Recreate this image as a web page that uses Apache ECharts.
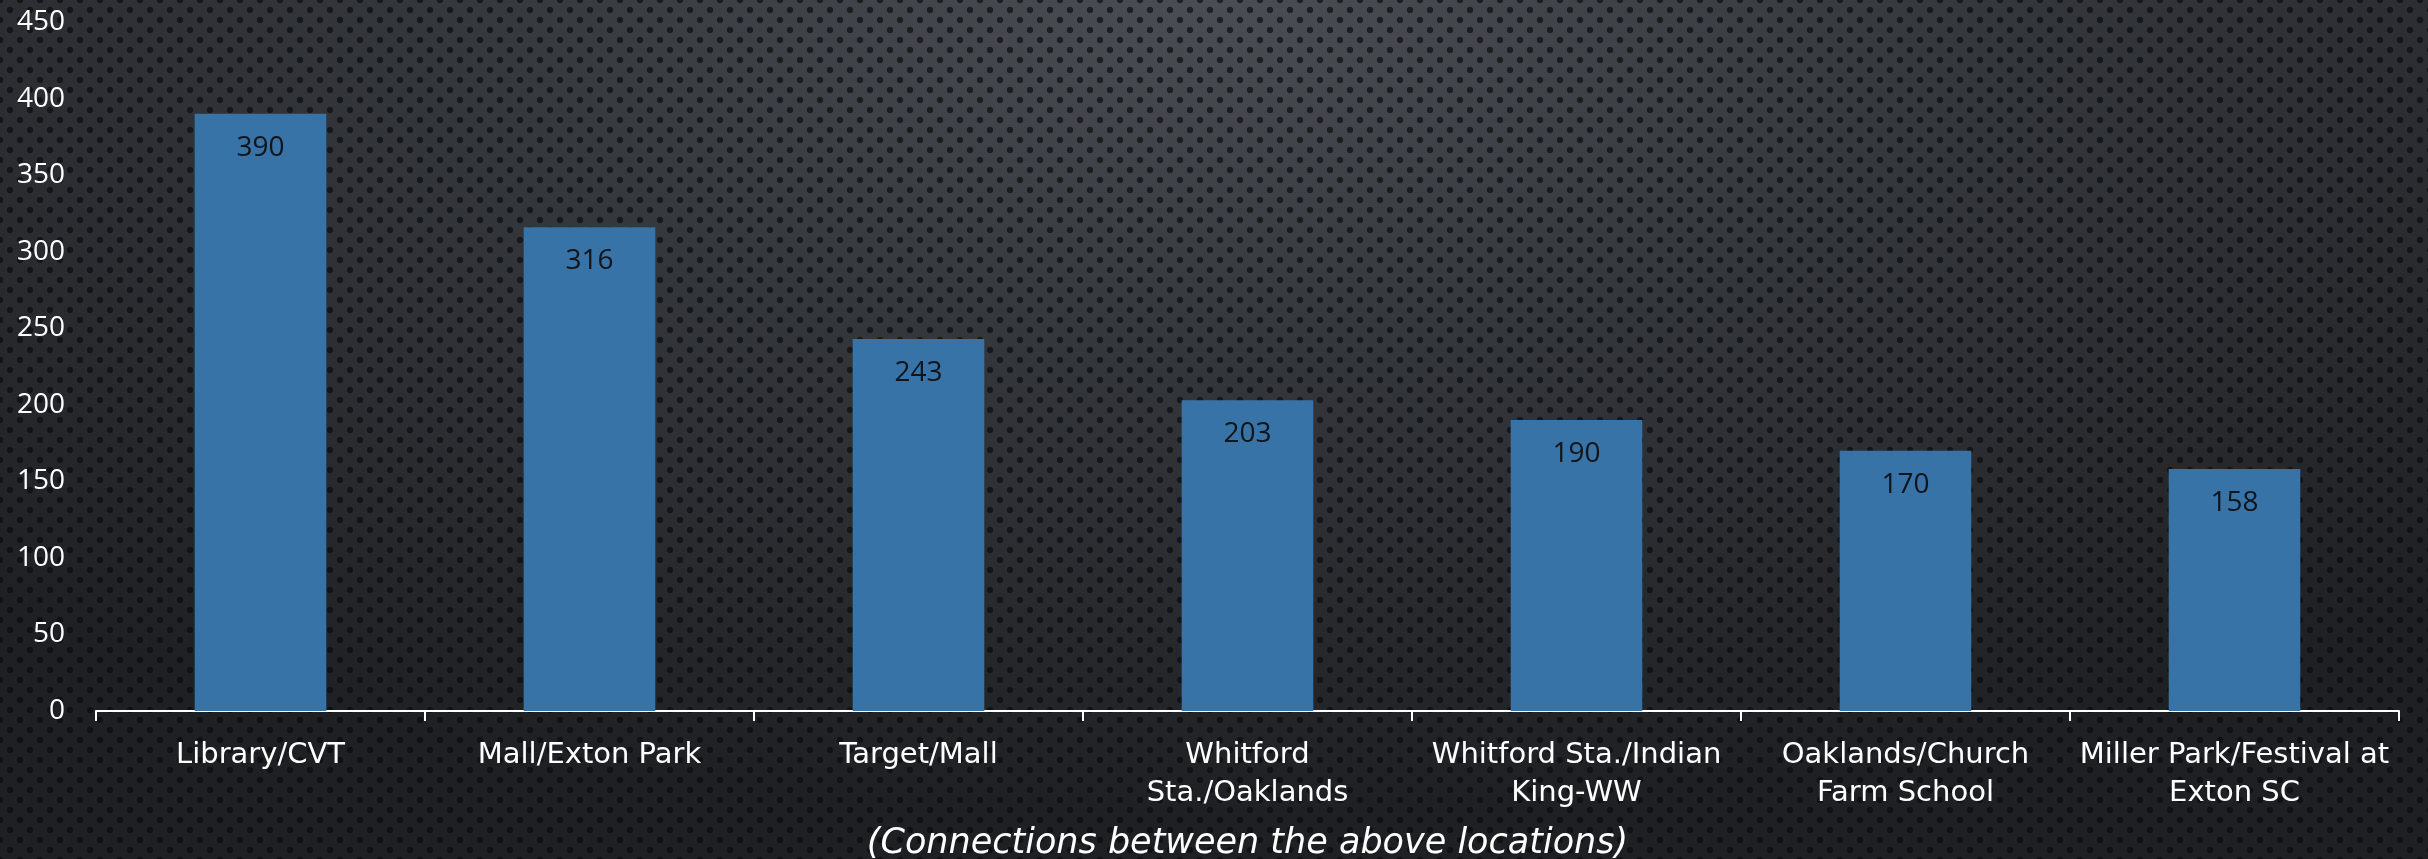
<!DOCTYPE html>
<html>
<head>
<meta charset="utf-8">
<script src="https://cdn.jsdelivr.net/npm/echarts@6/dist/echarts.min.js"></script>
<style>
html, body { margin: 0; padding: 0; width: 2428px; height: 859px; overflow: hidden; }
#bg {
  position: absolute; left: 0; top: 0; width: 2428px; height: 859px;
  background-color: #24272b;
  background-image:
    radial-gradient(circle, rgba(8,9,11,0.65) 2.8px, rgba(0,0,0,0) 3.6px),
    radial-gradient(circle, rgba(8,9,11,0.65) 2.8px, rgba(0,0,0,0) 3.6px),
    radial-gradient(ellipse 75% 95% at 50% 0%, #4a4d53 0%, #33363b 45%, #1e2023 100%);
  background-size: 20px 20px, 20px 20px, 100% 100%;
  background-position: 0 0, 10px 10px, 0 0;
}
#chart { position: absolute; left: 0; top: 0; width: 2428px; height: 859px; }
</style>
</head>
<body>
<div id="bg"></div>
<div id="chart"></div>
<script>
const categories = [
  "Library/CVT",
  "Mall/Exton Park",
  "Target/Mall",
  "Whitford\nSta./Oaklands",
  "Whitford Sta./Indian\nKing-WW",
  "Oaklands/Church\nFarm School",
  "Miller Park/Festival at\nExton SC"
];
const values = [390, 316, 243, 203, 190, 170, 158];
const yTicks = { min: 0, max: 450, interval: 50 };
const axisTitle = "(Connections between the above locations)";

const font = "'Open Sans', 'DejaVu Sans', sans-serif";
const wideFont = "'DejaVu Sans', sans-serif";
const chart = echarts.init(document.getElementById('chart'), null, { renderer: 'canvas' });
chart.setOption({
  backgroundColor: 'transparent',
  animation: false,
  grid: { left: 96, right: 29, top: 22, bottom: 148, containLabel: false, outerBoundsMode: 'none' },
  xAxis: {
    type: 'category',
    data: categories,
    name: axisTitle,
    nameLocation: 'middle',
    nameGap: 115,
    nameTextStyle: { color: '#ffffff', fontSize: 35, fontStyle: 'italic', fontFamily: wideFont },
    axisLine: { show: true, lineStyle: { color: '#ffffff', width: 2 } },
    axisTick: { show: true, alignWithLabel: false, length: 10, lineStyle: { color: '#ffffff', width: 2 } },
    axisLabel: { color: '#ffffff', fontSize: 29, fontFamily: wideFont, margin: 25, lineHeight: 38, interval: 0 },
    splitLine: { show: false }
  },
  yAxis: {
    type: 'value',
    min: yTicks.min, max: yTicks.max, interval: yTicks.interval,
    axisLine: { show: false },
    axisTick: { show: false },
    splitLine: { show: false },
    axisLabel: { color: '#ffffff', fontSize: 28, fontFamily: font, margin: 31 }
  },
  series: [{
    type: 'bar',
    data: values,
    barWidth: '40%',
    itemStyle: { color: '#3873a8' },
    label: {
      show: true, position: 'insideTop', distance: 20,
      color: '#111418', fontSize: 28, fontFamily: font
    }
  }]
});
</script>
</body>
</html>
